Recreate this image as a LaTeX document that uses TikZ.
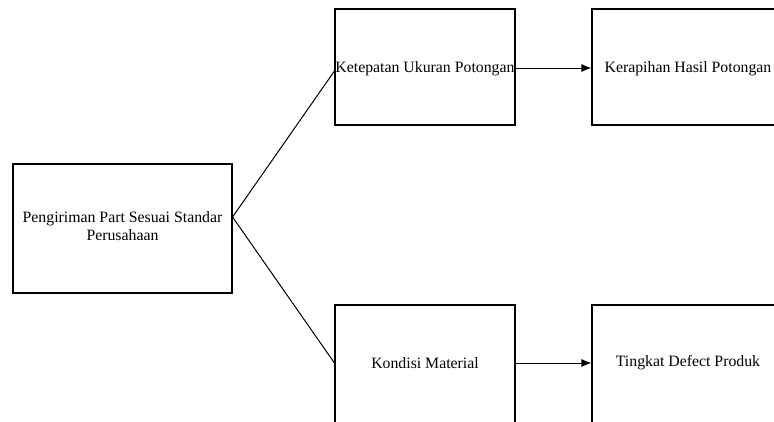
\documentclass[tikz,border=0pt]{standalone}
\usepackage{fontspec}
\setmainfont{Liberation Serif}
\usetikzlibrary{arrows.meta}
\begin{document}
\begin{tikzpicture}[x=1pt,y=-1pt,
  box/.style={draw,line width=1.1pt,inner sep=0pt,anchor=center,align=center,
    font=\fontsize{15.8}{17.5}\selectfont},
  conn/.style={draw,line width=1pt},
  arr/.style={conn,-{Latex[length=10pt,width=8pt]}}]
\useasboundingbox (0,0) rectangle (774,421);
\clip (0,0) rectangle (774,421);
\node[box,minimum width=219pt,minimum height=129pt] (a) at (122.5,228.5) {};
\node[box,minimum width=180pt,minimum height=116pt] (b) at (425,67) {};
\node[box,minimum width=192pt,minimum height=116pt] (c) at (688,67) {};
\node[box,minimum width=180pt,minimum height=118pt] (d) at (425,364) {};
\node[box,minimum width=192pt,minimum height=118pt] (e) at (688,364) {};
\node[box,draw=none] (ta) at (122.5,226) {Pengiriman Part Sesuai Standar\\Perusahaan};
\node[box,draw=none] (tb) at (425,69) {Ketepatan Ukuran Potongan};
\node[box,draw=none] (tc) at (688,69) {Kerapihan Hasil Potongan};
\node[box,draw=none] (td) at (425,363) {Kondisi Material};
\node[box,draw=none] (te) at (688,363) {Tingkat Defect Produk};
\coordinate (apex) at (a.east |- 0,217);
\coordinate (bin) at (b.west |- 0,71);
\coordinate (din) at (d.west |- 0,363);
\draw[conn] (apex) -- (bin);
\draw[conn] (apex) -- (din);
\draw[arr] (b.east |- 0,68) -- (c.west |- 0,68);
\draw[arr] (d.east |- 0,363) -- (e.west |- 0,363);
\end{tikzpicture}
\end{document}
